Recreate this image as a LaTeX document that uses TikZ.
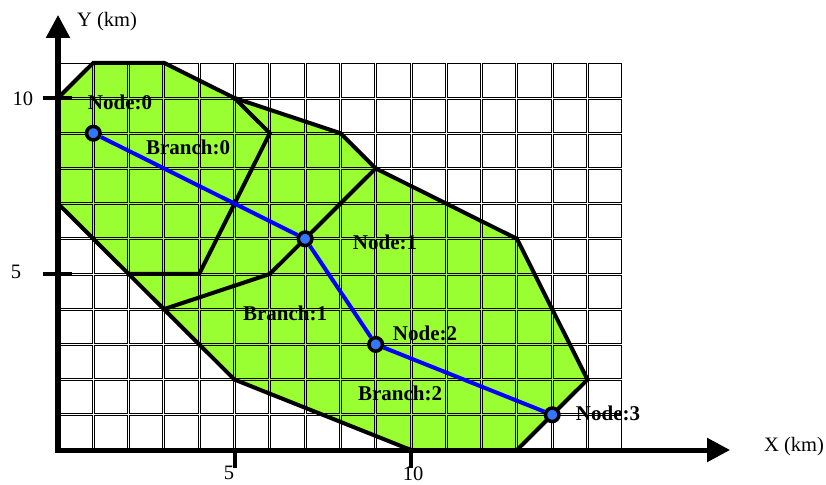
\documentclass[tikz,border=0pt]{standalone}
\usepackage{fontspec}
\setmainfont{Liberation Serif}
\usetikzlibrary{arrows.meta}
\definecolor{zone}{RGB}{153,255,51}
\definecolor{nodeblue}{RGB}{51,119,255}
\begin{document}
\begin{tikzpicture}[x=35.3pt,y=35.2pt,
  cell/.style={draw=black,line width=0.9pt},
  border/.style={draw=black,line width=4pt},
  axisline/.style={line width=5pt,-{Triangle[length=23pt,width=23pt]}},
  tickline/.style={line width=4pt},
  bus/.style={circle,draw=black,fill=nodeblue,line width=3.5pt,minimum size=13.5pt,inner sep=0pt},
  lbl/.style={font=\fontsize{21}{24}\selectfont\bfseries,inner sep=0pt},
  axlbl/.style={font=\fontsize{20.5}{24}\selectfont,inner sep=0pt}]
\useasboundingbox (-58pt,-34pt) rectangle (768pt,450pt);
% polygon corners
\coordinate (a1) at (0,10);
\coordinate (a2) at (1,11);
\coordinate (a3) at (3,11);
\coordinate (a4) at (5,10);
\coordinate (a5) at (8,9);
\coordinate (a6) at (9,8);
\coordinate (a7) at (13,6);
\coordinate (a8) at (15,2);
\coordinate (a9) at (13,0);
\coordinate (a10) at (10,0);
\coordinate (a11) at (5,2);
\coordinate (a12) at (3,4);
\coordinate (a13) at (0,7);
\coordinate (b1) at (6,9);
\coordinate (b2) at (4,5);
\coordinate (b3) at (2,5);
\coordinate (c1) at (7,6);
\coordinate (c2) at (6,5);
\fill[zone] (a1) -- (a2) -- (a3) -- (a4) -- (a5) -- (a6) -- (a7) -- (a8) -- (a9) -- (a10) -- (a11) -- (a12) -- (a13) -- cycle;
% grid
\foreach \i in {0,...,15}{
  \foreach \j in {0,...,10}{
    \draw[cell] ([xshift=1pt,yshift=1pt]\i,\j) rectangle ([xshift=-1pt,yshift=-1pt]{\i+1},{\j+1});
  }
}
% borders
\draw[border] (a1) -- (a2) -- (a3) -- (a4) -- (a5) -- (a6) -- (a7) -- (a8) -- (a9) -- (a10) -- (a11) -- (a12) -- (a13) -- cycle;
\draw[border] (a4) -- (b1) -- (b2) -- (b3);
\draw[border] (a6) -- (c1) -- (c2) -- (a12);
% axes
\coordinate (o) at (0,0);
\coordinate (ytip) at (0,12.36);
\coordinate (xtip) at (19.04,0);
\draw[axisline] ([yshift=-2.5pt]o) -- (ytip);
\draw[axisline] ([xshift=-2.5pt]o) -- (xtip);
\draw[tickline] ([xshift=-15pt]0,10) -- ([xshift=14pt]0,10);
\draw[tickline] ([xshift=-15pt]0,5) -- ([xshift=14pt]0,5);
\draw[tickline] (5,0) -- ([yshift=-18pt]5,0);
\draw[tickline] (10,0) -- ([yshift=-18pt]10,0);
\node[axlbl] (t10y) at (-35pt,351pt) {10};
\node[axlbl] (t5y) at (-42pt,178pt) {5};
\node[axlbl] (t5x) at (171pt,-23pt) {5};
\node[axlbl] (t10x) at (355pt,-24pt) {10};
\node[axlbl] (ylab) at (49pt,428pt) {Y (km)};
\node[axlbl] (xlab) at (736pt,3pt) {X (km)};
% buses
\node[bus] (n0) at (1,9) {};
\node[bus] (n1) at (7,6) {};
\node[bus] (n2) at (9,3) {};
\node[bus] (n3) at (14,1) {};
\draw[blue,line width=4pt] (n0) -- (n1) -- (n2) -- (n3);
% labels
\node[lbl] (l0) at (62pt,348pt) {Node:0};
\node[lbl] (lb0) at (130pt,303pt) {Branch:0};
\node[lbl] (l1) at (327pt,208pt) {Node:1};
\node[lbl] (lb1) at (227pt,137pt) {Branch:1};
\node[lbl] (l2) at (367pt,117pt) {Node:2};
\node[lbl] (lb2) at (342pt,57pt) {Branch:2};
\node[lbl] (l3) at (550pt,37pt) {Node:3};
\end{tikzpicture}
\end{document}
